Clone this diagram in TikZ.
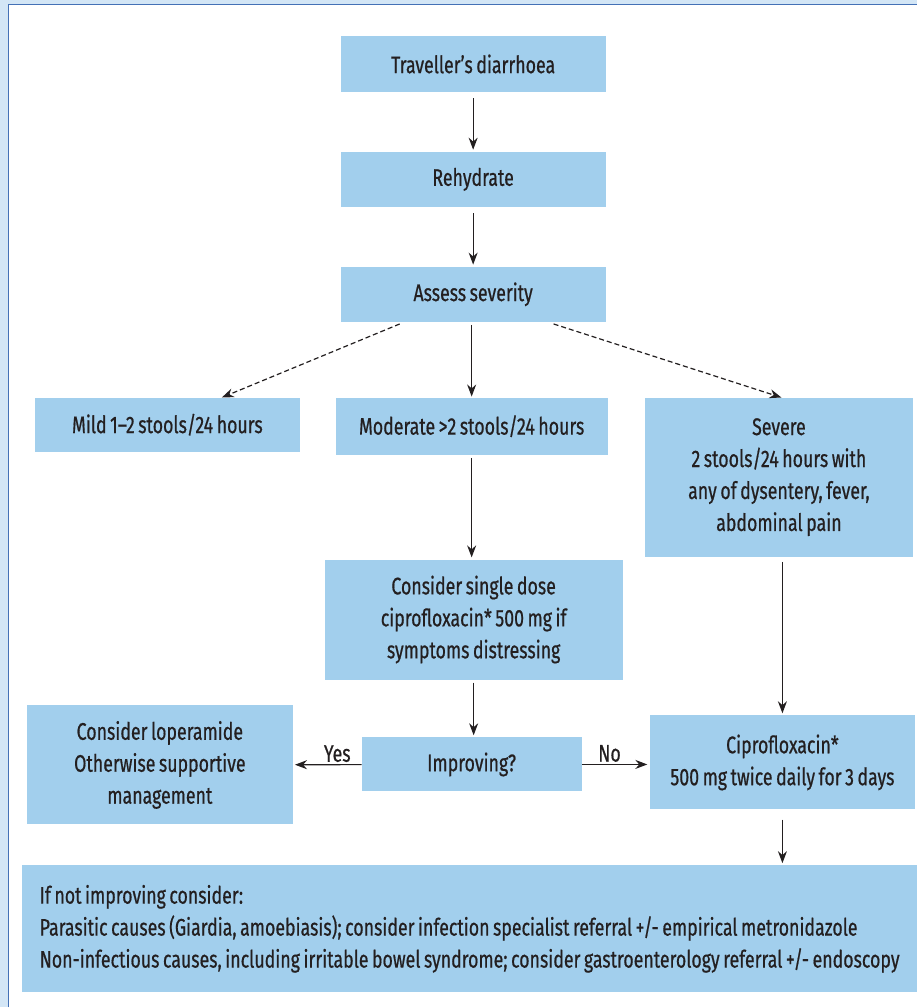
\documentclass[tikz,border=0pt]{standalone}
\usepackage{fontspec}
\setmainfont[FakeStretch=0.74, FakeBold=0.6, WordSpace=0.75]{Fira Sans}
\usetikzlibrary{arrows.meta,positioning}
\definecolor{boxblue}{HTML}{A2CFED}
\definecolor{paleblue}{HTML}{D3E6F6}
\definecolor{frameblue}{HTML}{4471B6}
\definecolor{ink}{HTML}{231F20}

\begin{document}
\begin{tikzpicture}[x=1pt, y=-1pt,
    blk/.style={fill=boxblue, align=center, inner sep=0pt, text=ink,
                font=\fontsize{24}{32}\selectfont},
    lbl/.style={text=ink, inner sep=2pt, font=\fontsize{24}{32}\selectfont},
    arr/.style={-{Stealth[length=12pt,width=9pt]}, ink, line width=1.2pt},
    dsh/.style={arr, dash pattern=on 5pt off 3pt}]
  % frame
  \fill[paleblue] (0,0) rectangle (918,1008);
  \fill[white] (8.5,4.5) rectangle (918,1008);
  \draw[frameblue, line width=1.5pt] (8.5,1008) -- (8.5,4.5) -- (918,4.5);
  \useasboundingbox (0,0) rectangle (918,1008);
  % boxes
  \node[blk, minimum width=265pt, minimum height=56pt] (travel) at (473.5,64) {Traveller’s diarrhoea};
  \node[blk, minimum width=265pt, minimum height=55pt] (rehyd) at (473.5,179.5) {Rehydrate};
  \node[blk, minimum width=265pt, minimum height=55pt] (assess) at (473.5,294.5) {Assess severity};
  \node[blk, minimum width=265pt, minimum height=54pt] (mild) at (167.5,425) {Mild 1--2 stools/24 hours};
  \node[blk, minimum width=272pt, minimum height=57pt] (moder) at (472,426.5) {Moderate >2 stools/24 hours};
  \node[blk, minimum width=269pt, minimum height=159pt] (severe) at (779.5,477.5)
       {Severe\\2 stools/24 hours with\\any of dysentery, fever,\\abdominal pain};
  \node[blk, minimum width=298pt, minimum height=120pt] (single) at (474,620)
       {Consider single dose\\ciprofloxacin* 500 mg if\\symptoms distressing};
  \node[blk, minimum width=266pt, minimum height=119pt] (loper) at (160,765.5)
       {Consider loperamide\\Otherwise supportive\\management};
  \node[blk, minimum width=220pt, minimum height=54pt] (improv) at (472,765) {Improving?};
  \node[blk, minimum width=266pt, minimum height=94pt] (cipro) at (783,763)
       {Ciprofloxacin*\\500 mg twice daily for 3 days};
  \node[blk, align=left, minimum width=896pt, minimum height=127pt] (further) at (470,929.5)
       {If not improving consider:\\
        Parasitic causes (Giardia, amoebiasis); consider infection specialist referral +/- empirical metronidazole\\
        Non-infectious causes, including irritable bowel syndrome; consider gastroenterology referral +/- endoscopy};
  % connectors
  \draw[arr, shorten <=6pt, shorten >=2pt] (travel) -- (rehyd);
  \draw[arr, shorten <=6pt, shorten >=2pt] (rehyd) -- (assess);
  \draw[arr, shorten <=3pt, shorten >=1pt] (assess.south -| moder) -- (moder);
  \draw[dsh] ([xshift=-73.5pt,yshift=-2pt]assess.south) -- ([xshift=54.5pt]mild.north);
  \draw[dsh] ([xshift=80.5pt,yshift=-2pt]assess.south) -- ([xshift=2.5pt]severe.north);
  \draw[arr, shorten <=3pt, shorten >=2pt] (moder) -- (single.north -| moder);
  \draw[arr, shorten <=3pt, shorten >=2pt] (single) -- (improv.north -| single);
  \draw[arr, shorten >=2pt] (improv) -- node[lbl, above, xshift=10pt] (yes) {Yes} (loper);
  \draw[arr, shorten >=2pt] (improv) -- node[lbl, above, xshift=-6pt] (no) {No} (cipro.west |- improv.east);
  \draw[arr, shorten <=5pt, shorten >=2pt] (severe.south -| cipro.north) -- (cipro.north);
  \draw[arr, shorten <=10pt, shorten >=2pt] (cipro.south) -- (further.north -| cipro.south);
\end{tikzpicture}
\end{document}
